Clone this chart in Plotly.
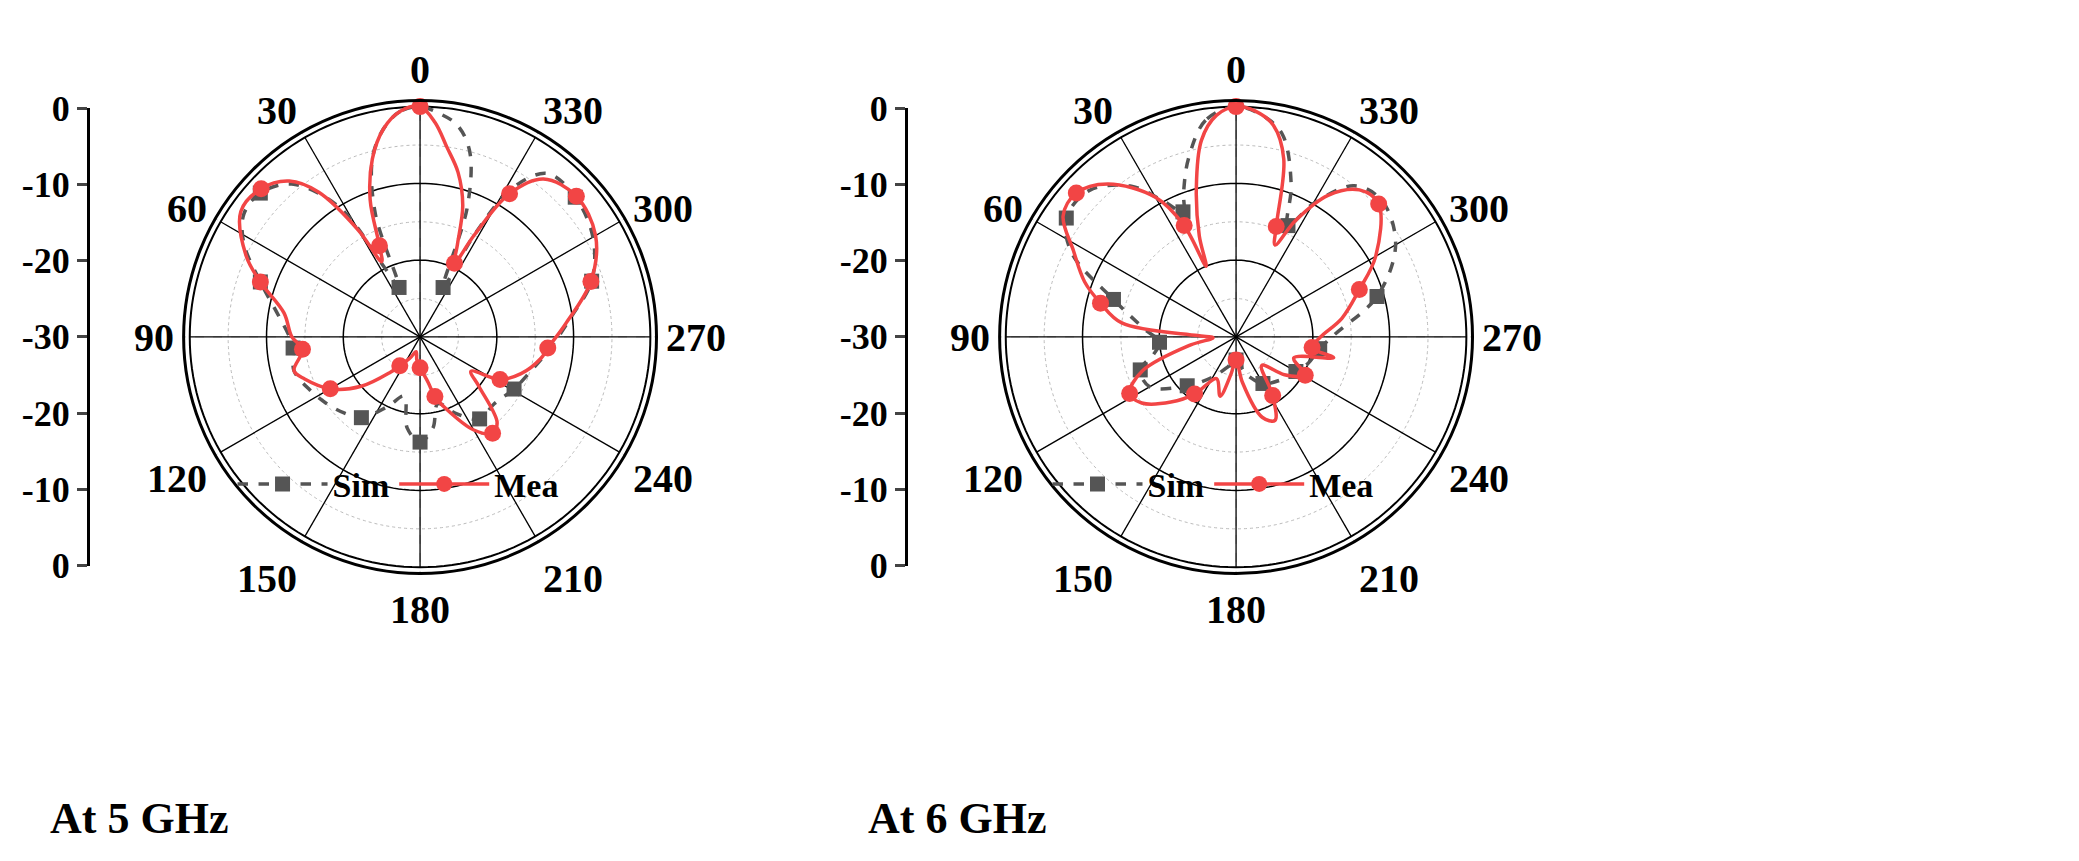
import plotly.graph_objects as go

# ---- data (theta in deg, counterclockwise from top; r in dB) ----
sim5_theta = [0,5,10,15,20,23,27,32,40,48,55,62,71,80,90,95,105,115,125,135,144,155,165,172,180,188,195,205,216,228,241,252,265,278,288,300,312,322,328,332,335,340,345,350,355,360]
sim5_r     = [0,-0.5,-2.5,-6,-13,-23,-20,-10,-4,-2,-2,-4,-8,-11,-13,-13.4,-13,-14,-15,-16,-17,-20,-22,-18,-16.3,-18,-21,-19,-16.8,-17,-16,-15,-13,-10,-6.5,-4,-2.8,-3,-7,-15,-22.9,-12,-5,-2,-0.8,0]
sim5_mk    = [5,9,12,15,20,24,28,30,34,36,40]

mea5_theta = [0,5,10,15,20,24,27,30,35,40,47,55,65,71,80,90,96,105,110,120,130,140,145,155,165,172,180,190,194,200,210,217,222,230,236,242,250,260,265,275,288,300,312,322,328,332,335,338,342,347,352,356,360]
mea5_r     = [0,-0.5,-2.5,-6,-11,-17,-19,-14,-7,-3.5,-1.7,-1.5,-5,-8,-12,-13.3,-14.6,-13,-14,-16.5,-20,-24,-25.4,-27,-28,-27,-26,-24,-22,-20,-16,-14.3,-15,-20,-22,-18.2,-16,-14,-13.3,-11,-6.6,-3.6,-2.6,-3.9,-8,-15,-19.4,-17,-12,-8,-5,-2,0]
mea5_mk    = [0,5,10,13,16,19,22,26,28,31,35,38,40,42,44,46]

sim6_theta = [0,8,15,20,23,28,35,45,55,63,73,85,94,102,109,120,135,150,165,180,195,210,225,240,250,262,272,286,300,313,322,330,335,340,347,353,360]
sim6_r     = [0,-1.5,-6,-10,-12.3,-10,-6,-3,-3,-6,-13.3,-18,-20,-19,-16.8,-17,-21,-24,-26,-27,-25,-23,-22,-21,-20,-19,-17,-10.9,-6,-4,-5,-10,-14,-9,-3,-1,0]
sim6_mk    = [4,8,10,12,14,16,19,21,23,25,27,32]

mea6_theta = [0,5,10,15,20,23,25,30,40,48,55,62,70,76,83,88,92,100,110,118,125,135,144,155,165,172,180,188,198,205,212,222,232,241,250,258,262,270,280,291,300,313,320,327,333,337,340,345,350,355,360]
mea6_r     = [0,-1,-4,-10,-16,-20,-14,-9,-4,-2,-2.5,-6,-9,-11.8,-15,-25,-27,-24,-17,-14.3,-15,-18,-20.8,-24,-22,-25,-27,-24,-19,-18,-21,-25,-22,-19.7,-22,-17,-20,-19,-16,-12.8,-9,-4.6,-5,-8,-13,-17,-14.7,-6,-2,-0.5,0]
mea6_mk    = [0,6,9,13,19,22,26,30,33,36,39,41,46]

spoke_angles = [0,30,60,90,120,150,180,210,240,270,300,330]
ring_levels = [-10,-20]
angle_labels = ["0","30","60","90","120","150","180","210","240","270","300","330"]
left_tickvals = [30,20,10,0,-10,-20,-30]
left_ticktext = ["0","-10","-20","-30","-20","-10","0"]
titles = ["At 5 GHz","At 6 GHz"]

SIM_C = "#555555"; MEA_C = "#f24545"
FONT = "Liberation Serif"

fig = go.Figure()
circle_theta = list(range(0,361,2))
for k, (pol, sth, sr, smk, mth, mr, mmk, lg) in enumerate([
        ("polar", sim5_theta, sim5_r, sim5_mk, mea5_theta, mea5_r, mea5_mk, "legend"),
        ("polar2", sim6_theta, sim6_r, sim6_mk, mea6_theta, mea6_r, mea6_mk, "legend2")]):
    for a in spoke_angles:
        fig.add_trace(go.Scatterpolar(theta=[a,a], r=[-30,0], mode="lines", subplot=pol,
                                      line=dict(color="black", width=1.3), showlegend=False, hoverinfo="skip"))
    for lv in ring_levels + [0]:
        fig.add_trace(go.Scatterpolar(theta=circle_theta, r=[lv]*len(circle_theta), mode="lines", subplot=pol,
                                      line=dict(color="black", width=1.5 if lv else 2), showlegend=False, hoverinfo="skip"))
    fig.add_trace(go.Scatterpolar(theta=sth, r=sr, mode="lines", subplot=pol, line_shape="spline",
                                  line=dict(color=SIM_C, width=3.5, dash="dash"), showlegend=False))
    fig.add_trace(go.Scatterpolar(theta=[sth[i] for i in smk], r=[sr[i] for i in smk], mode="markers", subplot=pol,
                                  marker=dict(symbol="square", size=15, color=SIM_C), showlegend=False))
    fig.add_trace(go.Scatterpolar(theta=mth, r=mr, mode="lines", subplot=pol, line_shape="spline",
                                  line=dict(color=MEA_C, width=3.5), showlegend=False))
    fig.add_trace(go.Scatterpolar(theta=[mth[i] for i in mmk], r=[mr[i] for i in mmk], mode="markers", subplot=pol,
                                  marker=dict(symbol="circle", size=17, color=MEA_C), showlegend=False))
    fig.add_trace(go.Scatterpolar(theta=[None], r=[None], mode="lines+markers", subplot=pol, name="Sim", legend=lg,
                                  line=dict(color=SIM_C, width=3.5, dash="dash"), marker=dict(symbol="square", size=15, color=SIM_C)))
    fig.add_trace(go.Scatterpolar(theta=[None], r=[None], mode="lines+markers", subplot=pol, name="Mea", legend=lg,
                                  line=dict(color=MEA_C, width=3.5), marker=dict(symbol="circle", size=17, color=MEA_C)))

fig.add_trace(go.Scatter(x=[0], y=[0], xaxis="x", yaxis="y", mode="markers", marker_opacity=0, showlegend=False, hoverinfo="skip"))
fig.add_trace(go.Scatter(x=[0], y=[0], xaxis="x", yaxis="y2", mode="markers", marker_opacity=0, showlegend=False, hoverinfo="skip"))

def polar_layout(xdom):
    return dict(
        domain=dict(x=xdom, y=[0.3345, 0.9105]), bgcolor="white",
        radialaxis=dict(range=[-30, 0.8], showticklabels=False, ticks="", showline=False,
                        dtick=5, tick0=0, gridcolor="#bbbbbb", griddash="dot", gridwidth=1),
        angularaxis=dict(direction="counterclockwise", rotation=90, tickvals=spoke_angles, ticktext=angle_labels,
                         ticks="", showline=True, linecolor="black", linewidth=3,
                         dtick=15, gridcolor="#bbbbbb", griddash="dash", gridwidth=1,
                         tickfont=dict(family=FONT, size=40, color="black", weight="bold")),
    )

yax = dict(domain=[0.3438, 0.9013], range=[-30, 30], tickvals=left_tickvals, ticktext=left_ticktext,
           anchor="free", showline=True, linecolor="black", linewidth=3, ticks="outside", ticklen=10,
           tickwidth=3, showgrid=False, zeroline=False,
           tickfont=dict(family=FONT, size=36, color="black", weight="bold"))

leg = dict(orientation="h", yanchor="middle", bgcolor="rgba(0,0,0,0)",
           font=dict(family=FONT, size=34, color="black", weight="bold"), itemwidth=90)

fig.update_layout(
    width=2079, height=861, margin=dict(l=0, r=0, t=0, b=0),
    paper_bgcolor="white", plot_bgcolor="rgba(0,0,0,0)",
    polar=polar_layout([0.0789, 0.3175]),
    polar2=polar_layout([0.4714, 0.7100]),
    xaxis=dict(domain=[0.99, 1.0], visible=False),
    yaxis=dict(yax, position=80/2079),
    yaxis2=dict(yax, position=898/2079),
    legend=dict(leg, x=0.108, y=0.443),
    legend2=dict(leg, x=0.500, y=0.443),
    annotations=[
        dict(text=titles[0], x=40/2079, y=0.036, xref="paper", yref="paper", xanchor="left", yanchor="middle",
             showarrow=False, font=dict(family=FONT, size=44, color="black", weight="bold")),
        dict(text=titles[1], x=858/2079, y=0.036, xref="paper", yref="paper", xanchor="left", yanchor="middle",
             showarrow=False, font=dict(family=FONT, size=44, color="black", weight="bold")),
    ],
)
fig.write_html("out.html")
